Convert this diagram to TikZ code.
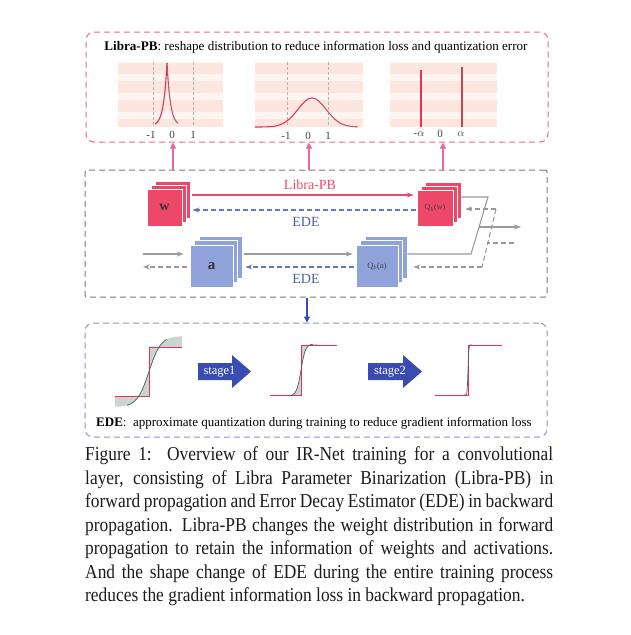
\documentclass[tikz,border=0pt]{standalone}
\usepackage{graphicx}
\usepackage{fontspec}
\setmainfont{Liberation Serif}
\usetikzlibrary{arrows.meta}

\definecolor{pinkbox}{HTML}{E8689A}
\definecolor{wred}{HTML}{EE4868}
\definecolor{ablue}{HTML}{8FA3DA}
\definecolor{edeblue}{HTML}{6678B8}
\definecolor{edetext}{HTML}{4F5F98}
\definecolor{greyline}{HTML}{9A9A9A}
\definecolor{boxgrey}{HTML}{7A7A7A}
\definecolor{bluebox}{HTML}{8C94CC}
\definecolor{stageblue}{HTML}{3A4CB0}
\definecolor{peach}{HTML}{FDE6DE}
\definecolor{peachlt}{HTML}{FEF4F0}
\definecolor{curvered}{HTML}{E8305A}
\definecolor{curvedark}{HTML}{B05A6A}
\definecolor{fillgreen}{HTML}{C9D6CF}
\definecolor{darkcurve}{HTML}{4F5A5A}
\definecolor{captext}{HTML}{1C1C1C}
\definecolor{arrowblue}{HTML}{3050B0}

\begin{document}
\begin{tikzpicture}[x=1pt,y=-1pt,
  dbox/.style={dash pattern=on 6pt off 4pt, line width=1pt, inner sep=0pt},
  wsq/.style={fill=wred, draw=white, line width=0.6pt, inner sep=0pt},
  asq/.style={fill=ablue, draw=white, line width=0.6pt, inner sep=0pt},
  glab/.style={font=\fontsize{11}{11}\selectfont, text=black!75, inner sep=0pt},
  mlab/.style={font=\fontsize{14}{14}\selectfont, inner sep=0pt},
  libra/.style={draw=wred, line width=1.1pt, -{Stealth[length=7pt,width=5pt]}},
  ede/.style={draw=edeblue, line width=1.1pt, dash pattern=on 5pt off 3pt, -{Stealth[length=7pt,width=5pt]}},
  gsolid/.style={draw=greyline, line width=1.1pt},
  gdash/.style={draw=greyline, line width=1.1pt, dash pattern=on 5pt off 3pt},
  garrow/.style={-{Stealth[length=7pt,width=5pt]}},
  parrow/.style={draw=pinkbox, line width=1.2pt, -{Triangle[length=6pt,width=6pt]}},
  bandA/.style={fill=peach},
  bandB/.style={fill=peachlt},
  stepline/.style={draw=curvered, line width=1pt},
  ecurve/.style={draw=darkcurve, line width=0.7pt},
  stagearrow/.style={fill=stageblue},
  stagetext/.style={font=\fontsize{12.5}{12.5}\selectfont, text=white, inner sep=0pt}
]
\useasboundingbox (0,0) rectangle (631,635);

% ---------------- boxes ----------------
\node[dbox, draw=pinkbox, rounded corners=8pt, minimum width=462pt, minimum height=110pt] (top) at (317,87) {};
\node[dbox, draw=boxgrey, rounded corners=2pt, minimum width=462pt, minimum height=127pt] (mid) at (316,233.5) {};
\node[dbox, draw=bluebox, rounded corners=8pt, minimum width=462pt, minimum height=114pt] (bot) at (316,380) {};

\node[font=\fontsize{13.1}{13.1}\selectfont, inner sep=0pt] (toptitle) at (316,47.5)
  {\textbf{Libra-PB}: reshape distribution to reduce information loss and quantization error};

% ---------------- plot backgrounds ----------------
\foreach \xa/\xb in {118/223, 255/363, 390/497}{
  \fill[bandB] (\xa,62) rectangle (\xb,127);
  \fill[bandA] (\xa,63) rectangle (\xb,74);
  \fill[bandA] (\xa,81) rectangle (\xb,93);
  \fill[bandA] (\xa,100) rectangle (\xb,112);
  \fill[bandA] (\xa,119) rectangle (\xb,127);
}
% dashed grid lines
\draw[black!30, line width=0.6pt, dash pattern=on 3pt off 2pt] (153,62) -- (153,127) (193,62) -- (193,127);
\draw[black!30, line width=0.6pt, dash pattern=on 3pt off 2pt] (287,62) -- (287,127) (328,62) -- (328,127);

% plot 1: sharp peak
\draw[curvered, line width=1.1pt] plot[domain=155:167, samples=50] (\x, {126-63*exp(-(167-\x)/3.5)});
\draw[curvedark, line width=1.1pt] plot[domain=167:178, samples=50] (\x, {126-63*exp(-(\x-167)/3.5)});
% plot 2: bell
\draw[curvered, line width=1.1pt] plot[domain=255:314, samples=80] (\x, {127-29*exp(-((\x-312)/20)*((\x-312)/20))});
\draw[curvedark, line width=1.1pt] plot[domain=314:358, samples=60] (\x, {127-29*exp(-((\x-312)/20)*((\x-312)/20))});
% plot 3: two spikes
\draw[curvered, line width=1.5pt] (421,70) -- (421,127);
\draw[curvedark!80!red, line width=1.5pt] (462,67) -- (462,127);

% axis labels
\node[glab] (l1a) at (151,134.5) {-1};
\node[glab] (l1b) at (172,134.5) {0};
\node[glab] (l1c) at (193,134.5) {1};
\node[glab] (l2a) at (286,135.5) {-1};
\node[glab] (l2b) at (308,135.5) {0};
\node[glab] (l2c) at (328,135.5) {1};
\node[glab] (l3a) at (419,134) {-$\alpha$};
\node[glab] (l3b) at (440,134) {0};
\node[glab] (l3c) at (461,134) {$\alpha$};

% pink arrows from middle box to top box
\foreach \px in {173,309,443}{
  \draw[parrow] (mid.north -| \px,0) -- (top.south -| \px,0);
}

% ---------------- middle stacks ----------------
\draw[wsq] (155,181) rectangle (190,218);
\draw[wsq] (151,185) rectangle (186,222);
\node[wsq, minimum width=35pt, minimum height=37pt, font=\fontsize{14}{14}\selectfont\bfseries, text=black!80] (w) at (164.5,207.5) {w};

\draw[wsq] (425,182) rectangle (461,218);
\draw[wsq] (421,186) rectangle (457,222);
\node[wsq, minimum width=36pt, minimum height=36pt, font=\fontsize{8}{8}\selectfont, text=black!75] (qw) at (435,208) {Q$_b$(w)};

\draw[asq] (199,236) rectangle (242,278);
\draw[asq] (194.5,240.5) rectangle (237.5,282.5);
\node[asq, minimum width=43pt, minimum height=42pt, font=\fontsize{15}{15}\selectfont\bfseries, text=black!80] (a) at (211.5,266) {a};

\draw[asq] (365,236) rectangle (407,278);
\draw[asq] (360.5,240.5) rectangle (402.5,282.5);
\node[asq, minimum width=42pt, minimum height=42pt, font=\fontsize{8.5}{8.5}\selectfont, text=black!75] (qa) at (377,266) {Q$_b$(a)};

% connectors between stacks
\draw[libra] ([xshift=10pt,yshift=12.5pt]w.east) -- ([xshift=-3pt,yshift=13pt]qw.west);
\node[mlab, text=wred] (lplab) at (310,185) {Libra-PB};
\draw[ede] ([xshift=-1pt,yshift=-2pt]qw.west) -- ([xshift=10pt,yshift=-2.5pt]w.east);
\node[mlab, text=edetext] (ede1) at (306,222) {EDE};

\draw[gsolid, garrow] ([xshift=11pt,yshift=12pt]a.east) -- ([xshift=-3pt,yshift=12pt]qa.west);
\draw[ede] ([xshift=-2pt,yshift=-1pt]qa.west) -- ([xshift=12pt,yshift=-1pt]a.east);
\node[mlab, text=edetext] (ede2) at (306,279) {EDE};

% left inputs
\coordinate (inL) at (143,254);
\coordinate (inLd) at (143,267);
\draw[gsolid, garrow] (inL) -- ([xshift=-6pt,yshift=12pt]a.west);
\draw[gdash, garrow] ([xshift=-3pt,yshift=-1pt]a.west) -- (inLd);

% right side
\coordinate (r1) at (488,197);
\coordinate (r2) at (471,254);
\draw[gsolid] ([xshift=8pt,yshift=11pt]qw.east) -- (r1) -- (r2) -- ([xshift=9pt,yshift=12pt]qa.east);
\coordinate (outS) at (479,227);
\coordinate (outE) at (521,227);
\draw[gsolid, garrow] (outS) -- (outE);

\coordinate (d1) at (496,209);
\coordinate (d2) at (482,267);
\draw[gdash] (d1) -- (d2);
\draw[gdash, garrow] (d1) -- ([xshift=12pt,yshift=-1pt]qw.east);
\draw[gdash, garrow] (d2) -- ([xshift=15pt,yshift=-1pt]qa.east);
\coordinate (inR) at (514,243);
\coordinate (dm) at (487,243);
\draw[gdash] (inR) -- (dm);

% blue arrow to bottom box
\draw[draw=arrowblue, line width=1.2pt, -{Triangle[length=6pt,width=6pt]}] (mid.south -| 307,0) -- (bot.north -| 307,0);

% ---------------- bottom: EDE curves ----------------
% curve 1
\fill[fillgreen] plot[domain=115:182, samples=80] (\x, {371.5+35.5*tanh((149-\x)/12)}) -- (182,347) -- (149,347) -- (149,396) -- (115,396) -- cycle;
\draw[stepline] (115,396) -- (149,396) -- (149,347) -- (182,347);
\draw[ecurve] plot[domain=127:167, samples=80] (\x, {371.5+35.5*tanh((149-\x)/12)});

% curve 2
\fill[fillgreen] plot[domain=285:318, samples=80] (\x, {370+26*tanh((301-\x)/4.5)}) -- (318,345) -- (301,345) -- (301,395) -- (285,395) -- cycle;
\draw[stepline] (270,395) -- (301,395) -- (301,345) -- (337,345);
\draw[ecurve] plot[domain=289:313, samples=80] (\x, {370+26*tanh((301-\x)/4.5)});

% curve 3
\draw[stepline] (435,395) -- (468,395) -- (468,345) -- (502,345);
\draw[ecurve] plot[domain=464:472, samples=60] (\x, {370+25*tanh((468-\x)/0.8)});

% stage arrows
\fill[stagearrow] (198,363) -- (232,363) -- (232,355) -- (251,371.5) -- (232,388) -- (232,380) -- (198,380) -- cycle;
\node[stagetext] (st1) at (219.5,371.5) {stage1};
\fill[stagearrow] (368,363) -- (403,363) -- (403,355) -- (422,371.5) -- (403,388) -- (403,380) -- (368,380) -- cycle;
\node[stagetext] (st2) at (390,371.5) {stage2};

\node[font=\fontsize{13}{13}\selectfont, inner sep=0pt, anchor=base west] (edetitle) at (96,426)
  {\textbf{EDE}:\ \ approximate quantization during training to reduce gradient information loss};

% ---------------- caption ----------------
\node[anchor=north west, inner sep=0pt, text=captext] (caption) at (85,446.5)
{\scalebox{1}[1.13]{\parbox[t]{468pt}{\fontsize{17.4}{20.8}\selectfont
\hyphenpenalty=10000 \tolerance=10000 \emergencystretch=20pt
Figure 1:\ \ Overview of our IR-Net training for a convolutional\linebreak
layer, consisting of Libra Parameter Binarization (Libra-PB) in\linebreak
forward propagation and Error Decay Estimator (EDE) in backward\linebreak
propagation. Libra-PB changes the weight distribution in forward\linebreak
propagation to retain the information of weights and activations.\linebreak
And the shape change of EDE during the entire training process\linebreak
reduces the gradient information loss in backward propagation.\par}}};
\end{tikzpicture}
\end{document}
